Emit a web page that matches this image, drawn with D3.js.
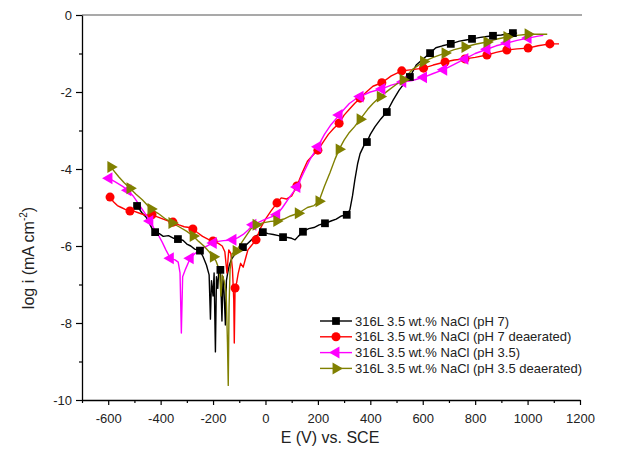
<!DOCTYPE html>
<html>
<head>
<meta charset="utf-8">
<script src="https://cdn.jsdelivr.net/npm/d3@7"></script>
<style>
  body { margin: 0; background: #fff; }
  text { font-family: "Liberation Sans", Arial, sans-serif; }
</style>
</head>
<body>
<div id="my_dataviz"></div>
<script>
// data (E in mV, log i)
const xTicks = [-600, -400, -200, 0, 200, 400, 600, 800, 1000, 1200];
const yTicks = [0, -2, -4, -6, -8, -10];

const labels = [
  "316L 3.5 wt.% NaCl (pH 7)",
  "316L 3.5 wt.% NaCl (pH 7 deaerated)",
  "316L 3.5 wt.% NaCl (pH 3.5)",
  "316L 3.5 wt.% NaCl (pH 3.5 deaerated)"
];

const ph7Line = [[-500,-4.93],[-490,-4.96],[-470,-5.15],[-455,-5.25],[-440,-5.45],[-430,-5.58],[-421,-5.64],[-405,-5.68],[-390,-5.75],[-370,-5.73],[-350,-5.8],[-334,-5.82],[-315,-5.85],[-300,-5.95],[-285,-6.0],[-270,-6.08],[-250,-6.12],[-238,-6.28],[-225,-6.5],[-215,-6.75],[-210,-7.9],[-206,-6.9],[-200,-7.3],[-196,-6.7],[-191,-8.75],[-187,-6.8],[-182,-7.1],[-178,-6.6],[-172,-6.62],[-166,-7.95],[-162,-6.8],[-158,-7.2],[-153,-8.05],[-149,-6.9],[-144,-6.7],[-138,-6.5],[-130,-6.35],[-115,-6.2],[-100,-6.1],[-86,-6.03],[-70,-5.95],[-55,-5.85],[-40,-5.75],[-25,-5.7],[-10,-5.64],[10,-5.68],[30,-5.7],[50,-5.73],[67,-5.77],[85,-5.78],[100,-5.8],[113,-5.84],[125,-5.75],[143,-5.63],[165,-5.55],[185,-5.52],[205,-5.45],[227,-5.41],[250,-5.35],[270,-5.3],[290,-5.22],[310,-5.19],[322,-5.06],[332,-4.7],[341,-4.28],[352,-3.85],[361,-3.6],[375,-3.4],[387,-3.3],[400,-3.1],[418,-2.9],[440,-2.7],[463,-2.52],[487,-2.21],[510,-1.95],[530,-1.77],[551,-1.61],[575,-1.3],[600,-1.15],[628,-0.99],[650,-0.85],[675,-0.8],[707,-0.75],[740,-0.68],[765,-0.65],[788,-0.62],[820,-0.58],[845,-0.56],[868,-0.54],[900,-0.52],[925,-0.49],[944,-0.47],[960,-0.47]];
const ph7Marks = [[-490,-4.96],[-421,-5.64],[-334,-5.82],[-250,-6.12],[-172,-6.62],[-86,-6.03],[-10,-5.64],[67,-5.77],[143,-5.63],[227,-5.41],[310,-5.19],[387,-3.3],[463,-2.52],[551,-1.61],[628,-0.99],[707,-0.75],[788,-0.62],[868,-0.54],[944,-0.47]];

const ph7DeLine = [[-600,-4.73],[-593,-4.73],[-580,-4.85],[-565,-4.95],[-550,-5.0],[-535,-5.05],[-517,-5.09],[-500,-5.1],[-480,-5.15],[-460,-5.2],[-433,-5.19],[-410,-5.25],[-390,-5.3],[-370,-5.35],[-353,-5.38],[-330,-5.45],[-310,-5.5],[-290,-5.52],[-277,-5.56],[-260,-5.65],[-240,-5.75],[-220,-5.82],[-200,-5.87],[-180,-5.93],[-165,-6.0],[-155,-6.15],[-147,-6.7],[-140,-6.1],[-132,-6.2],[-126,-6.6],[-121,-7.4],[-119,-8.52],[-116,-7.09],[-110,-6.95],[-104,-6.71],[-95,-6.45],[-85,-6.55],[-75,-6.3],[-67,-6.1],[-55,-6.0],[-36,-5.84],[-20,-5.55],[0,-5.3],[20,-5.1],[44,-4.88],[60,-4.75],[80,-4.78],[100,-4.7],[120,-4.44],[140,-4.1],[160,-3.8],[180,-3.65],[200,-3.51],[220,-3.3],[240,-3.1],[260,-2.95],[281,-2.81],[300,-2.6],[320,-2.45],[340,-2.3],[361,-2.16],[385,-2.0],[410,-1.85],[444,-1.76],[480,-1.58],[520,-1.45],[560,-1.42],[603,-1.38],[640,-1.3],[685,-1.22],[720,-1.17],[761,-1.14],[800,-1.1],[845,-1.04],[880,-0.97],[921,-0.91],[960,-0.88],[1002,-0.86],[1040,-0.8],[1085,-0.75],[1120,-0.75]];
const ph7DeMarks = [[-593,-4.73],[-517,-5.09],[-433,-5.19],[-353,-5.38],[-277,-5.56],[-200,-5.87],[-116,-7.09],[-36,-5.84],[44,-4.88],[120,-4.44],[200,-3.51],[281,-2.81],[361,-2.16],[444,-1.76],[520,-1.45],[603,-1.38],[685,-1.22],[761,-1.14],[845,-1.04],[921,-0.91],[1002,-0.86],[1085,-0.75]];

const ph35Line = [[-605,-4.22],[-597,-4.24],[-570,-4.35],[-545,-4.45],[-525,-4.55],[-505,-4.7],[-490,-4.85],[-470,-5.05],[-455,-5.2],[-441,-5.35],[-425,-5.55],[-410,-5.7],[-394,-5.9],[-380,-6.1],[-363,-6.32],[-345,-6.36],[-333,-6.42],[-326,-6.7],[-321,-8.26],[-316,-6.8],[-305,-6.6],[-287,-6.32],[-270,-6.2],[-250,-6.1],[-231,-6.03],[-215,-5.97],[-199,-5.92],[-180,-5.88],[-160,-5.86],[-140,-5.85],[-124,-5.84],[-105,-5.78],[-85,-5.7],[-65,-5.58],[-48,-5.45],[-25,-5.38],[0,-5.3],[20,-5.25],[43,-5.19],[65,-5.0],[90,-4.75],[120,-4.47],[145,-4.1],[170,-3.75],[200,-3.42],[225,-3.1],[250,-2.85],[281,-2.6],[300,-2.45],[320,-2.3],[340,-2.2],[361,-2.12],[400,-2.0],[444,-1.92],[480,-1.82],[524,-1.74],[560,-1.7],[603,-1.62],[640,-1.52],[680,-1.42],[720,-1.28],[761,-1.14],[800,-1.0],[845,-0.89],[880,-0.8],[921,-0.73],[960,-0.66],[1002,-0.6],[1040,-0.55],[1060,-0.53]];
const ph35Marks = [[-597,-4.24],[-525,-4.55],[-441,-5.35],[-363,-6.32],[-287,-6.32],[-199,-5.92],[-124,-5.84],[-48,-5.45],[43,-5.19],[120,-4.47],[200,-3.42],[281,-2.6],[361,-2.12],[444,-1.92],[524,-1.74],[603,-1.62],[680,-1.42],[761,-1.14],[845,-0.89],[921,-0.73],[1002,-0.6]];

const ph35DeLine = [[-600,-3.93],[-590,-3.95],[-560,-4.2],[-540,-4.35],[-517,-4.5],[-495,-4.65],[-470,-4.8],[-437,-5.04],[-410,-5.15],[-385,-5.28],[-357,-5.4],[-330,-5.5],[-300,-5.62],[-276,-5.74],[-255,-5.88],[-235,-6.0],[-215,-6.15],[-199,-6.28],[-188,-6.4],[-180,-6.55],[-175,-6.68],[-170,-7.3],[-165,-6.75],[-158,-6.9],[-150,-7.2],[-145,-8.5],[-142,-9.62],[-139,-7.6],[-135,-6.6],[-127,-6.2],[-112,-6.13],[-95,-5.95],[-75,-5.75],[-55,-5.55],[-36,-5.45],[-10,-5.4],[20,-5.36],[43,-5.35],[70,-5.3],[95,-5.22],[125,-5.15],[160,-5.0],[185,-4.95],[204,-4.84],[225,-4.45],[246,-4.1],[265,-3.75],[281,-3.49],[300,-3.25],[320,-3.05],[340,-2.9],[361,-2.71],[390,-2.45],[410,-2.3],[438,-2.12],[470,-1.95],[500,-1.8],[525,-1.68],[560,-1.42],[603,-1.21],[640,-1.1],[685,-0.99],[720,-0.9],[761,-0.83],[800,-0.76],[845,-0.7],[880,-0.63],[921,-0.57],[960,-0.53],[1002,-0.5],[1040,-0.5],[1075,-0.5]];
const ph35DeMarks = [[-590,-3.95],[-517,-4.5],[-437,-5.04],[-357,-5.4],[-276,-5.74],[-199,-6.28],[-112,-6.13],[-36,-5.45],[43,-5.35],[125,-5.15],[204,-4.84],[281,-3.49],[361,-2.71],[438,-2.12],[525,-1.68],[603,-1.21],[685,-0.99],[761,-0.83],[845,-0.7],[921,-0.57],[1002,-0.5]];

// series setup
const series = [
  { label: labels[0], color: "#000000", symbol: d3.symbolSquare,   rot: 0,   size: 60, line: ph7Line,    marks: ph7Marks },
  { label: labels[1], color: "#ff0000", symbol: d3.symbolCircle,   rot: 0,   size: 64, line: ph7DeLine,  marks: ph7DeMarks },
  { label: labels[2], color: "#ff00ff", symbol: d3.symbolTriangle, rot: -90, size: 62, line: ph35Line,   marks: ph35Marks },
  { label: labels[3], color: "#808000", symbol: d3.symbolTriangle, rot: 90,  size: 62, line: ph35DeLine, marks: ph35DeMarks }
];

const margin = { top: 15, right: 44, bottom: 61, left: 82 },
  width = 624 - margin.left - margin.right,
  height = 461 - margin.top - margin.bottom;

const svg = d3.select("#my_dataviz")
  .append("svg")
  .attr("width", width + margin.left + margin.right)
  .attr("height", height + margin.top + margin.bottom)
  .append("g")
  .attr("transform", `translate(${margin.left}, ${margin.top})`);

const x = d3.scaleLinear().domain([-700, 1200]).range([0, width]);
const y = d3.scaleLinear().domain([-10, 0]).range([height, 0]);

// top frame line
svg.append("line")
  .attr("x1", 0).attr("x2", width + 2)
  .attr("y1", 0).attr("y2", 0)
  .attr("stroke", "#555")
  .attr("stroke-width", 1.2);

// axes (major + minor ticks)
svg.append("g")
  .attr("transform", `translate(0,${height})`)
  .call(d3.axisBottom(x).tickValues(xTicks).tickSize(5).tickSizeOuter(0).tickPadding(9).tickFormat(d => d));
svg.append("g")
  .attr("transform", `translate(0,${height})`)
  .call(d3.axisBottom(x).tickValues(d3.range(-700, 1201, 100).filter(v => !xTicks.includes(v)))
    .tickSize(3).tickSizeOuter(0).tickFormat(""))
  .select(".domain").remove();

svg.append("g")
  .call(d3.axisLeft(y).tickValues(yTicks).tickSize(6).tickSizeOuter(0).tickPadding(4).tickFormat(d => d));
svg.append("g")
  .call(d3.axisLeft(y).tickValues([-1, -3, -5, -7, -9]).tickSize(3).tickSizeOuter(0).tickFormat(""))
  .select(".domain").remove();

svg.selectAll(".domain").attr("stroke", "#000").attr("stroke-width", 1.3);
svg.selectAll(".tick line").attr("stroke", "#000").attr("stroke-width", 1.2);
svg.selectAll(".tick text")
  .attr("font-size", "13px")
  .attr("fill", "#222")
  .style("font-family", '"Liberation Sans", Arial, sans-serif');

// lines
const line = d3.line().x(d => x(d[0])).y(d => y(d[1]));

series.forEach(s => {
  svg.append("path")
    .datum(s.line)
    .attr("fill", "none")
    .attr("stroke", s.color)
    .attr("stroke-width", 1.4)
    .attr("stroke-linejoin", "round")
    .attr("d", line);
});

// markers
series.forEach(s => {
  svg.selectAll(null)
    .data(s.marks)
    .enter()
    .append("path")
    .attr("d", d3.symbol().type(s.symbol).size(s.size))
    .attr("transform", d => `translate(${x(d[0])},${y(d[1])}) rotate(${s.rot})`)
    .attr("fill", s.color);
});

// legend
const legend = svg.append("g").attr("transform", `translate(${320 - margin.left}, ${321 - margin.top})`);
series.forEach((s, i) => {
  const g = legend.append("g").attr("transform", `translate(0, ${i * 15.8})`);
  g.append("line")
    .attr("x1", 0).attr("x2", 32)
    .attr("stroke", s.color)
    .attr("stroke-width", 1.4);
  g.append("path")
    .attr("d", d3.symbol().type(s.symbol).size(s.size))
    .attr("transform", `translate(16,0) rotate(${s.rot})`)
    .attr("fill", s.color);
  g.append("text")
    .attr("x", 35)
    .attr("y", 4.5)
    .attr("font-size", "13px")
    .attr("fill", "#222")
    .text(s.label);
});

// axis titles
svg.append("text")
  .attr("x", 330 - margin.left)
  .attr("y", 443 - margin.top)
  .attr("text-anchor", "middle")
  .attr("font-size", "16px")
  .attr("fill", "#222")
  .text("E (V) vs. SCE");

const yTitle = svg.append("text")
  .attr("transform", `translate(${34 - margin.left}, ${258 - margin.top}) rotate(-90)`)
  .attr("text-anchor", "middle")
  .attr("font-size", "16px")
  .attr("fill", "#222");
yTitle.append("tspan").text("log i (mA cm");
yTitle.append("tspan").attr("font-size", "10px").attr("dy", "-7").text("-2");
yTitle.append("tspan").attr("dy", "7").text(")");
</script>
</body>
</html>
